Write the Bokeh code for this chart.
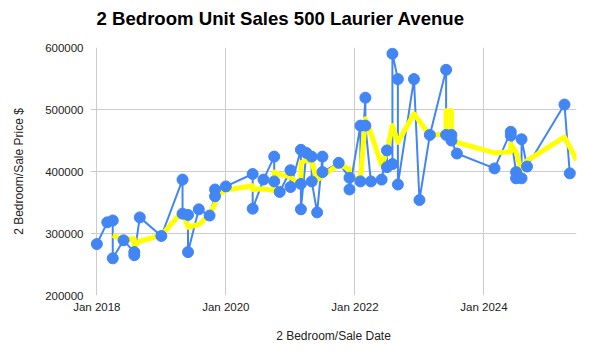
import pandas as pd
from bokeh.plotting import figure
from bokeh.models import ColumnDataSource, FixedTicker, NumeralTickFormatter, Range1d, Title
from bokeh.embed import file_html
from bokeh.resources import INLINE

# ---- data ----
sale_dates = [
    "2018-01-01", "2018-03-01", "2018-04-01", "2018-04-01", "2018-06-01",
    "2018-08-01", "2018-08-01", "2018-09-01", "2019-01-01", "2019-05-01",
    "2019-05-01", "2019-06-01", "2019-06-01", "2019-08-01", "2019-10-01",
    "2019-11-01", "2019-11-01", "2020-01-01", "2020-06-01", "2020-06-01",
    "2020-08-01", "2020-10-01", "2020-10-01", "2020-11-01", "2021-01-01",
    "2021-01-01", "2021-03-01", "2021-03-01", "2021-03-01", "2021-04-01",
    "2021-05-01", "2021-05-01", "2021-06-01", "2021-07-01", "2021-07-01",
    "2021-10-01", "2021-12-01", "2021-12-01", "2022-02-01", "2022-02-01",
    "2022-03-01", "2022-03-01", "2022-04-01", "2022-06-01", "2022-07-01",
    "2022-07-01", "2022-08-01", "2022-08-01", "2022-09-01", "2022-09-01",
    "2022-12-01", "2023-01-01", "2023-03-01", "2023-06-01", "2023-06-01",
    "2023-07-01", "2023-07-01", "2023-08-01", "2024-03-01", "2024-06-01",
    "2024-06-01", "2024-07-01", "2024-07-01", "2024-08-01", "2024-08-01",
    "2024-09-01", "2025-04-01", "2025-05-01",
]
sale_prices = [
    283000, 318000, 321000, 260000, 289000,
    270000, 265000, 326000, 296000, 387000,
    332000, 330000, 270000, 339000, 329000,
    360000, 371000, 376000, 396000, 340000,
    387000, 424000, 384000, 367000, 402000,
    375000, 435000, 380000, 339000, 430000,
    424000, 384000, 334000, 424000, 399000,
    414000, 390000, 371000, 474000, 384000,
    519000, 474000, 384000, 387000, 434000,
    407000, 412000, 590000, 549000, 379000,
    549000, 354000, 459000, 564000, 459000,
    459000, 450000, 429000, 405000, 464000,
    458000, 399000, 389000, 389000, 452000,
    408000, 508000, 397000,
]

trend_dates = [
    "2018-04-01", "2018-06-01", "2018-08-01", "2018-08-01", "2018-09-01",
    "2019-01-01", "2019-05-01", "2019-06-01", "2019-08-01", "2019-10-01",
    "2019-11-01", "2019-11-01", "2020-01-01", "2020-06-01", "2020-06-01",
    "2020-08-01", "2020-10-01", "2020-10-01", "2020-11-01", "2021-01-01",
    "2021-03-01", "2021-03-01", "2021-04-01", "2021-05-01", "2021-06-01",
    "2021-07-01", "2021-10-01", "2021-12-01", "2021-12-01", "2022-02-01",
    "2022-03-01", "2022-04-01", "2022-06-01", "2022-07-01", "2022-08-01",
    "2022-09-01", "2022-12-01", "2023-03-01", "2023-06-01", "2023-06-01",
    "2023-07-01", "2023-07-01", "2023-08-01", "2024-03-01", "2024-06-01",
    "2024-06-01", "2024-07-01", "2024-08-01", "2024-09-01", "2025-04-01",
    "2025-06-10",
]
trend_prices = [
    297000, 290000, 291500, 279000, 287500,
    297000, 336000, 310000, 314500, 330000,
    348000, 360000, 370000, 377000, 371000,
    372000, 369500, 399000, 395000, 392000,
    375000, 414000, 418000, 416000, 386000,
    393000, 411000, 404000, 391000, 388000,
    485000, 462000, 410000, 432000, 474000,
    447000, 493000, 458000, 461000, 498000,
    498000, 455000, 447000, 430000, 432000,
    444700, 431000, 401600, 417700, 455400,
    418000,
]

x_tick_dates = ["2018-01-01", "2020-01-01", "2022-01-01", "2024-01-01"]
x_tick_labels = ["Jan 2018", "Jan 2020", "Jan 2022", "Jan 2024"]
y_ticks = [200000, 300000, 400000, 500000, 600000]


def ms(s):
    return pd.Timestamp(s).value / 1e6


sale_src = ColumnDataSource(dict(x=pd.to_datetime(sale_dates), y=sale_prices))
trend_src = ColumnDataSource(dict(x=pd.to_datetime(trend_dates), y=trend_prices))

FONT = "Liberation Sans"

p = figure(
    width=589, height=355,
    x_axis_type="datetime",
    output_backend="svg", toolbar_location=None,
    x_range=Range1d(ms("2017-11-26"), ms("2025-06-08")),
    y_range=Range1d(200000, 600000),
    min_border_left=90, min_border_right=13, min_border_top=47, min_border_bottom=60,
    title="2 Bedroom Unit Sales 500 Laurier Avenue",
)
p.outline_line_color = None
p.background_fill_color = "white"
p.border_fill_color = "white"

p.title.text_font = FONT
p.title.text_font_size = "18.6px"
p.title.text_font_style = "bold"
p.title.text_color = "#000000"
p.title.align = "left"
p.title.offset = 6
p.title.standoff = 0

# empty spacer between the title and the plot area
p.add_layout(Title(text=" ", text_font_size="10px", standoff=6), "above")

x_ticks_ms = [ms(d) for d in x_tick_dates]
p.xaxis.ticker = FixedTicker(ticks=x_ticks_ms)
p.xaxis.major_label_overrides = {t: lab for t, lab in zip(x_ticks_ms, x_tick_labels)}
p.yaxis.ticker = FixedTicker(ticks=y_ticks)
p.yaxis.formatter = NumeralTickFormatter(format="0")
p.xgrid.ticker = FixedTicker(ticks=x_ticks_ms)
p.ygrid.ticker = FixedTicker(ticks=y_ticks)
p.grid.grid_line_color = "#cccccc"
p.grid.grid_line_width = 1

for ax in p.axis:
    ax.axis_line_color = None
    ax.major_tick_line_color = None
    ax.minor_tick_line_color = None
    ax.major_tick_out = 0
    ax.major_tick_in = 0
    ax.minor_tick_out = 0
    ax.minor_tick_in = 0
    ax.major_label_text_font = FONT
    ax.major_label_text_font_size = "11.5px"
    ax.major_label_text_color = "#222222"
    ax.axis_label_text_font = FONT
    ax.axis_label_text_font_size = "12px"
    ax.axis_label_text_font_style = "normal"
    ax.axis_label_text_color = "#222222"

p.xaxis.axis_label = "2 Bedroom/Sale Date"
p.yaxis.axis_label = "2 Bedroom/Sale Price $"
p.xaxis.major_label_standoff = 5
p.xaxis.axis_label_standoff = 13
p.yaxis.major_label_standoff = 7
p.yaxis.axis_label_standoff = 16

p.line("x", "y", source=sale_src, line_color="#4285f4", line_width=2)
p.line("x", "y", source=trend_src, line_color="#ffff00", line_width=5, line_join="round")
p.scatter("x", "y", source=sale_src, size=11, fill_color="#4285f4", line_color="#4285f4")

open("out.html", "w").write(file_html(p, INLINE))
